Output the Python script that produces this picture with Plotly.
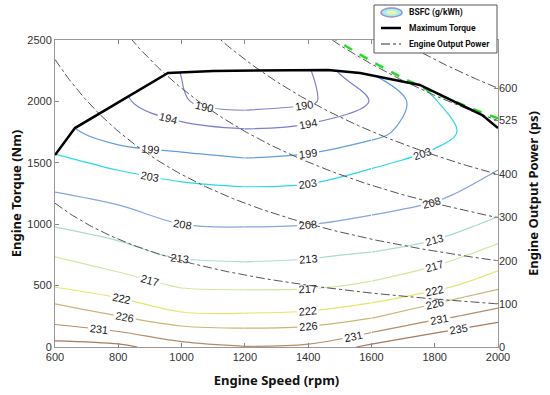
import numpy as np
import plotly.graph_objects as go

# ---------------- data ----------------
speeds = [600, 800, 1000, 1200, 1400, 1600, 1800, 2000]          # rpm
torques = [0, 250, 500, 750, 1000, 1250, 1500, 1750, 2000, 2250, 2500]  # Nm

bsfc_600 = [236.5, 229.0, 221.6, 216.7, 212.6, 208.2, 204.0, 200.5, 198.5, 197.5, 197.0]
bsfc_800 = [236.0, 226.1, 219.3, 214.1, 211.7, 205.8, 202.1, 196.8, 195.0, 194.5, 194.5]
bsfc_1000 = [232.7, 222.9, 216.5, 212.5, 208.0, 204.45, 200.65, 195.9, 190.3, 189.9, 191.0]
bsfc_1200 = [231.2, 222.7, 216.1, 212.1, 207.6, 203.9, 199.8, 194.7, 188.1, 187.5, 189.0]
bsfc_1400 = [231.8, 223.2, 216.25, 212.5, 207.9, 204.2, 200.4, 195.7, 189.3, 189.5, 192.0]
bsfc_1600 = [236.0, 225.4, 217.6, 213.4, 209.0, 205.6, 202.4, 197.8, 194.2, 199.5, 202.0]
bsfc_1800 = [239.3, 229.8, 220.5, 215.0, 210.9, 206.9, 204.2, 201.6, 202.8, 206.0, 208.0]
bsfc_2000 = [242.3, 233.2, 225.0, 218.8, 213.9, 210.3, 207.3, 205.6, 206.0, 207.5, 209.0]

bsfc_levels = [190, 194, 199, 203, 208, 213, 217, 222, 226, 231, 235]
level_colors = ["#8383cc", "#7c7fd0", "#5f9ee0", "#2ad8e6", "#86a6dc", "#a9dcd2",
                "#cfe8a0", "#e6e66a", "#cdb574", "#b58e66", "#a87a5e"]

# maximum torque curve
mt_speed = [600, 663, 957, 1100, 1463, 1564, 1753, 1950, 2000]
mt_torque = [1563, 1783, 2231, 2248, 2256, 2231, 2134, 1889, 1783]

# constant engine output power lines (ps)
power_levels = [100, 200, 300, 400, 525, 600]
green_power = 530
right_ticks = [0, 100, 200, 300, 400, 525, 600]

legend_names = ["BSFC (g/kWh)", "Maximum Torque", "Engine Output Power"]

# ---------------- figure ----------------
W, H = 550, 395
ML, MR, MT, MB = 55, 52, 40, 48
PW, PH = W - ML - MR, H - MT - MB

def px(xp):   # pixel x -> paper x
    return (xp - ML) / PW

def py(yp):   # pixel y -> paper y
    return (H - MB - yp) / PH

cols = [bsfc_600, bsfc_800, bsfc_1000, bsfc_1200, bsfc_1400, bsfc_1600, bsfc_1800, bsfc_2000]
z = np.array(cols).T  # rows = torque, cols = speed

fig = go.Figure()

# contour lines drawn in three speed bands (shared edge columns) so each line gets
# a label in every band, like the reference
bands = [(0, 3), (3, 5), (5, 7)]
for lvl, col in zip(bsfc_levels, level_colors):
    for a, b in bands:
        fig.add_trace(go.Contour(
            x=speeds[a:b + 1], y=torques, z=z[:, a:b + 1],
            autocontour=False,
            contours=dict(start=lvl, end=lvl, size=1, coloring="none",
                          showlabels=True, labelformat=".0f",
                          labelfont=dict(size=11, color="#222", family="Liberation Sans")),
            line=dict(color=col, width=1.2, smoothing=1.0),
            showscale=False, showlegend=False, hoverinfo="skip",
        ))

# mask above maximum torque
fig.add_trace(go.Scatter(x=mt_speed, y=mt_torque, mode="lines",
                         line=dict(width=0), hoverinfo="skip"))
fig.add_trace(go.Scatter(x=mt_speed, y=[2500] * len(mt_speed), mode="lines",
                         line=dict(width=0), fill="tonexty", fillcolor="white",
                         hoverinfo="skip"))

# power lines: torque[Nm] = P[ps] * 735.499 W / (2*pi*n/60)
n_line = np.linspace(600, 2000, 281)
def torque_at(p):
    return p * 735.499 / (2 * np.pi * n_line / 60.0)

for p in power_levels:
    fig.add_trace(go.Scatter(x=n_line, y=torque_at(p), mode="lines",
                             line=dict(color="#555", width=1, dash="dashdot"),
                             hoverinfo="skip"))

fig.add_trace(go.Scatter(x=n_line, y=torque_at(green_power), mode="lines",
                         line=dict(color="#22dd22", width=2.5, dash="dash"),
                         hoverinfo="skip"))

fig.add_trace(go.Scatter(x=mt_speed, y=mt_torque, mode="lines",
                         line=dict(color="black", width=2.5), hoverinfo="skip"))

pmax = 2500 * 2 * np.pi * 2000 / 60.0 / 735.499
fig.add_trace(go.Scatter(x=[None], y=[None], yaxis="y2"))

# ---------------- legend box (drawn as shapes + text) ----------------
shapes = [
    dict(type="rect", xref="paper", yref="paper", x0=px(374), x1=px(497),
         y0=py(53), y1=py(5), line=dict(color="#555", width=1), fillcolor="white"),
    # BSFC icon: concentric ellipses
    dict(type="circle", xref="paper", yref="paper", x0=px(381), x1=px(402),
         y0=py(17), y1=py(8), line=dict(color="#9d8fd8", width=1.5), fillcolor="#9ff0ee"),
    dict(type="circle", xref="paper", yref="paper", x0=px(386), x1=px(397),
         y0=py(14.5), y1=py(10.5), line=dict(width=0), fillcolor="#f2f2a8"),
    # Maximum torque sample
    dict(type="line", xref="paper", yref="paper", x0=px(381), x1=px(401),
         y0=py(28), y1=py(28), line=dict(color="black", width=2.5)),
    # Engine output power sample
    dict(type="line", xref="paper", yref="paper", x0=px(381), x1=px(401),
         y0=py(44), y1=py(44), line=dict(color="#333", width=1.2, dash="dashdot")),
]
legend_rows = [12.5, 28, 44]
annotations = [
    dict(text=name, xref="paper", yref="paper", x=px(407), y=py(row),
         xanchor="left", yanchor="middle", showarrow=False,
         font=dict(family="Roboto", size=8.5, color="#111", weight="bold"))
    for name, row in zip(legend_names, legend_rows)
]

tickfont = dict(family="Liberation Sans", size=11, color="#333")
titlefont = dict(family="Noto Sans", size=13, color="#111", weight="bold")

fig.update_layout(
    width=W, height=H,
    margin=dict(l=ML, r=MR, t=MT, b=MB),
    paper_bgcolor="white", plot_bgcolor="white",
    xaxis=dict(range=[600, 2000], tickvals=list(range(600, 2001, 200)),
               ticks="inside", ticklen=4, tickcolor="#888", showline=True,
               linecolor="#999", linewidth=1, mirror="ticks", showgrid=False,
               zeroline=False, tickfont=tickfont, automargin=False,
               title=dict(text="Engine Speed (rpm)", font=titlefont, standoff=13)),
    yaxis=dict(range=[0, 2500], tickvals=list(range(0, 2501, 500)),
               ticks="inside", ticklen=4, tickcolor="#888", showline=True,
               linecolor="#999", linewidth=1, mirror=True, showgrid=False,
               zeroline=False, tickfont=tickfont, automargin=False,
               title=dict(text="Engine Torque (Nm)", font=titlefont, standoff=2)),
    yaxis2=dict(range=[0, pmax], tickvals=right_ticks, overlaying="y", side="right",
                ticks="inside", ticklen=4, tickcolor="#888", showline=False,
                showgrid=False, zeroline=False, tickfont=tickfont, automargin=False,
                title=dict(text="Engine Output Power (ps)", font=titlefont, standoff=12)),
    shapes=shapes,
    annotations=annotations,
    showlegend=False,
)

fig.write_html("out.html", config={"displayModeBar": False},
               post_script="document.body.style.margin='0px';")
